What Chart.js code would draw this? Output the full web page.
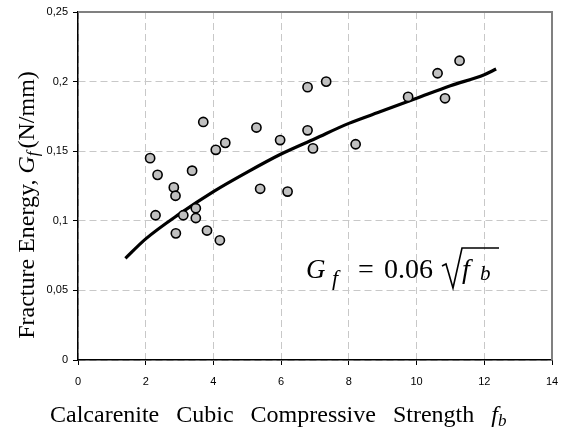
<!DOCTYPE html>
<html>
<head>
<meta charset="utf-8">
<script src="https://cdn.jsdelivr.net/npm/chart.js@4"></script>
<style>
  html, body { margin: 0; padding: 0; background: #fff; }
  #wrap { width: 561px; height: 439px; }
</style>
</head>
<body>
<div id="wrap"><canvas id="chart" width="561" height="439"></canvas></div>
<script>
// measured points (fb, Gf)
const strengthValues = [2.13, 2.29, 2.35, 2.83, 2.88, 2.89, 3.11, 3.37, 3.48, 3.48, 3.70, 3.81, 4.07, 4.19, 4.35,
  5.27, 5.38, 5.97, 6.19, 6.78, 6.78, 6.94, 7.33, 8.20, 9.75, 10.62, 10.84, 11.27];
const energyValues = [0.145, 0.104, 0.133, 0.124, 0.118, 0.091, 0.104, 0.136, 0.109, 0.102, 0.171, 0.093, 0.151, 0.086, 0.156,
  0.167, 0.123, 0.158, 0.121, 0.196, 0.165, 0.152, 0.200, 0.155, 0.189, 0.206, 0.188, 0.215];

// fitted curve
const curveX = [1.4, 2, 3, 4, 5, 6, 7, 8, 9, 10, 11, 12, 12.35];
const curveY = [0.073, 0.087, 0.105, 0.121, 0.135, 0.148, 0.159, 0.170, 0.179, 0.188, 0.197, 0.205, 0.209];

const xTicks = [0, 2, 4, 6, 8, 10, 12, 14];
const yTickLabels = ['0', '0,05', '0,1', '0,15', '0,2', '0,25'];

const serif = '"Liberation Serif", "DejaVu Serif", serif';
const sans = '"Liberation Sans", Arial, sans-serif';

const pts = strengthValues.map((x, i) => ({ x: x, y: energyValues[i] }));
const curve = curveX.map((x, i) => ({ x: x, y: curveY[i] }));

const extras = {
    id: 'extras',
    afterDatasetsDraw(chart) {
        const ctx = chart.ctx;
        const a = chart.chartArea;
        ctx.save();
        // grey frame top/right
        ctx.strokeStyle = '#808080';
        ctx.lineWidth = 2;
        ctx.beginPath();
        ctx.moveTo(a.left, a.top);
        ctx.lineTo(a.right, a.top);
        ctx.lineTo(a.right, a.bottom);
        ctx.stroke();
        ctx.restore();
    },
    afterDraw(chart) {
        const ctx = chart.ctx;
        ctx.save();
        ctx.fillStyle = '#000';
        ctx.textBaseline = 'alphabetic';

        // equation
        const base = 278;
        ctx.font = 'italic 27px ' + serif;
        ctx.fillText('G', 306, base);
        ctx.font = 'italic 22px ' + serif;
        ctx.fillText('f', 332, base + 7);
        ctx.font = '28px ' + serif;
        ctx.fillText('=', 358, base);
        ctx.fillText('0.06', 384, base);
        ctx.strokeStyle = '#000';
        ctx.lineWidth = 1.6;
        ctx.beginPath();
        ctx.moveTo(442, base - 12);
        ctx.lineTo(446, base - 14);
        ctx.lineTo(453, base + 10);
        ctx.lineTo(462, base - 30);
        ctx.lineTo(499, base - 30);
        ctx.stroke();
        ctx.font = 'italic 28px ' + serif;
        ctx.fillText('f', 462, base);
        ctx.font = 'italic 21px ' + serif;
        ctx.fillText('b', 480, base + 2);

        // x title
        const words = ['Calcarenite', 'Cubic', 'Compressive', 'Strength'];
        let tx = 50;
        const xb = 422;
        ctx.font = '24px ' + serif;
        words.forEach(w => {
            ctx.fillText(w, tx, xb);
            tx += ctx.measureText(w).width + 17;
        });
        ctx.font = 'italic 24px ' + serif;
        ctx.fillText('f', tx, xb);
        tx += ctx.measureText('f').width;
        ctx.font = 'italic 17px ' + serif;
        ctx.fillText('b', tx, xb + 4);

        // y title
        ctx.translate(34, 205);
        ctx.rotate(-Math.PI / 2);
        const p1 = 'Fracture Energy, ';
        const p3 = '(N/mm)';
        ctx.font = '24px ' + serif;
        const w1 = ctx.measureText(p1).width;
        const w3 = ctx.measureText(p3).width;
        ctx.font = 'italic 24px ' + serif;
        const wG = ctx.measureText('G').width;
        ctx.font = 'italic 17px ' + serif;
        const wf = ctx.measureText('f').width + 3;
        let yx = -(w1 + wG + wf + w3) / 2;
        ctx.font = '24px ' + serif;
        ctx.fillText(p1, yx, 0);
        yx += w1;
        ctx.font = 'italic 24px ' + serif;
        ctx.fillText('G', yx, 0);
        yx += wG;
        ctx.font = 'italic 17px ' + serif;
        ctx.fillText('f', yx, 4);
        yx += wf;
        ctx.font = '24px ' + serif;
        ctx.fillText(p3, yx, 0);
        ctx.restore();
    }
};

new Chart(document.getElementById('chart'), {
    type: 'scatter',
    data: {
        datasets: [
            {
                label: 'Tests',
                data: pts,
                backgroundColor: '#c0c0c0',
                borderColor: '#000',
                borderWidth: 1.6,
                pointRadius: 4.6,
                order: 1
            },
            {
                label: 'Fit',
                type: 'line',
                data: curve,
                borderColor: '#000',
                borderWidth: 3.2,
                pointRadius: 0,
                cubicInterpolationMode: 'monotone',
                fill: false,
                order: 2
            }
        ]
    },
    options: {
        responsive: false,
        animation: false,
        layout: { padding: { left: 0, right: 9, top: 12, bottom: 0 } },
        plugins: {
            legend: { display: false },
            tooltip: { enabled: false }
        },
        scales: {
            x: {
                type: 'linear',
                min: 0,
                max: 14,
                afterBuildTicks: s => { s.ticks = xTicks.map(v => ({ value: v })); },
                afterFit: s => { s.height = 79; s.paddingLeft = 0; s.paddingRight = 0; },
                grid: {
                    color: '#c8c8c8',
                    lineWidth: 1,
                    tickColor: '#000',
                    tickLength: 5,
                    tickBorderDash: []
                },
                border: { color: '#000', width: 1.5, dash: [7, 4] },
                ticks: { color: '#000', font: { family: sans, size: 11 }, padding: 10, maxRotation: 0 }
            },
            y: {
                min: 0,
                max: 0.25,
                afterBuildTicks: s => { s.ticks = yTickLabels.map((t, i) => ({ value: i * 0.05 })); },
                afterFit: s => { s.width = 78; s.paddingTop = 0; s.paddingBottom = 0; },
                grid: {
                    color: '#c8c8c8',
                    lineWidth: 1,
                    tickColor: '#000',
                    tickLength: 5,
                    tickBorderDash: []
                },
                border: { color: '#000', width: 1.5, dash: [7, 4] },
                ticks: {
                    color: '#000',
                    font: { family: sans, size: 11 },
                    padding: 5,
                    callback: (v, i) => yTickLabels[i]
                }
            }
        }
    },
    plugins: [extras]
});
</script>
</body>
</html>
